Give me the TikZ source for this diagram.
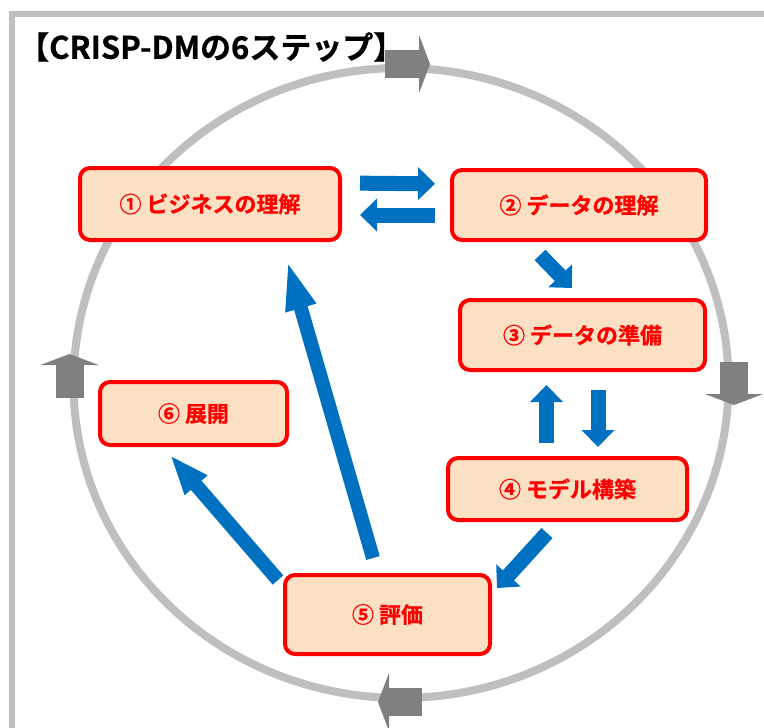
\documentclass[tikz,border=0pt]{standalone}
\usepackage{fontspec}
\newfontfamily\jpfont{Noto Sans CJK JP}[BoldFont={Noto Sans CJK JP Bold}, BoldFeatures={FakeBold=0.8}]
\usepackage{tikz}
\usetikzlibrary{arrows.meta, shapes.geometric, positioning}
\definecolor{boxfill}{RGB}{252,224,196}
\definecolor{flowblue}{RGB}{0,112,192}
\tikzstyle{stage}=[rectangle, rounded corners=10pt, draw=red, fill=boxfill, line width=4pt, text=red, font=\jpfont\bfseries\fontsize{22}{26}\selectfont, inner sep=0pt]
\tikzstyle{cyclering}=[ellipse, draw=black!25, line width=8pt, minimum width=655pt, minimum height=630pt, inner sep=0pt]
\tikzstyle{cyclearrow}=[line width=28pt, draw=black!50, -{Triangle[length=11pt, width=58pt]}]
\tikzstyle{flow}=[line width=15pt, draw=flowblue, -{Triangle[length=17pt, width=32pt]}]
\tikzstyle{longflow}=[line width=14pt, draw=flowblue, -{Triangle[length=50pt, width=28pt]}]

\begin{document}
\begin{tikzpicture}[x=1pt, y=-1pt]
      \useasboundingbox (0,0) rectangle (764,728);
      \draw[black!25, line width=6pt] (11.5,728) |- (764,14);

      \node[cyclering] (cycle) at (401,383) {};
      \draw[cyclearrow] ([shift={(-16,0)}]cycle.north) -- ([shift={(29,0)}]cycle.north);
      \draw[cyclearrow] ([shift={(1.5,-21)}]cycle.east) -- ([shift={(1.5,22)}]cycle.east);
      \draw[cyclearrow] ([shift={(21,0)}]cycle.south) -- ([shift={(-23,0)}]cycle.south);
      \draw[cyclearrow] ([shift={(0,15)}]cycle.west) -- ([shift={(0,-29)}]cycle.west);

      \node[anchor=west, inner sep=0pt, font=\jpfont\bfseries\fontsize{31}{36}\selectfont] (title) at (18,47) {【CRISP-DMの6ステップ】};

      \node[stage, minimum width=260pt, minimum height=72pt] (s1) at (210,204) {① ビジネスの理解};
      \node[stage, minimum width=254pt, minimum height=70pt] (s2) at (579,205) {② データの理解};
      \node[stage, minimum width=245pt, minimum height=70pt] (s3) at (582.5,335) {③ データの準備};
      \node[stage, minimum width=239pt, minimum height=62pt] (s4) at (567.5,489) {④ モデル構築};
      \node[stage, minimum width=205pt, minimum height=79pt] (s5) at (387.5,614.5) {⑤ 評価};
      \node[stage, minimum width=187pt, minimum height=63pt] (s6) at (193.5,413.5) {⑥ 展開};

      \draw[flow, shorten <=18pt, shorten >=15pt] ([yshift=21pt]s1.east) -- ([yshift=21pt]s2.west);
      \draw[flow, shorten <=15pt, shorten >=18pt] ([yshift=-10pt]s2.west) -- ([yshift=-11pt]s1.east);
      \draw[flow] ([shift={(-39,13)}]s2.south) -- ([shift={(-10.5,-10)}]s3.north);
      \draw[flow] ([shift={(-21,-13)}]s4.north) -- ([shift={(-36,13)}]s3.south);
      \draw[flow] ([shift={(15.5,18)}]s3.south) -- ([shift={(30.5,-9)}]s4.north);
      \draw[flow] ([shift={(-20.5,11)}]s4.south) -- ([shift={(5,-26.5)}]s5.east);
      \draw[longflow] ([shift={(-14.5,-15)}]s5.north) -- ([shift={(77,18)}]s1.south);
      \draw[longflow, -{Triangle[length=40pt, width=27pt]}] ([shift={(-5,-34.5)}]s5.west) -- ([shift={(-23.5,8)}]s6.south);
\end{tikzpicture}
\end{document}
